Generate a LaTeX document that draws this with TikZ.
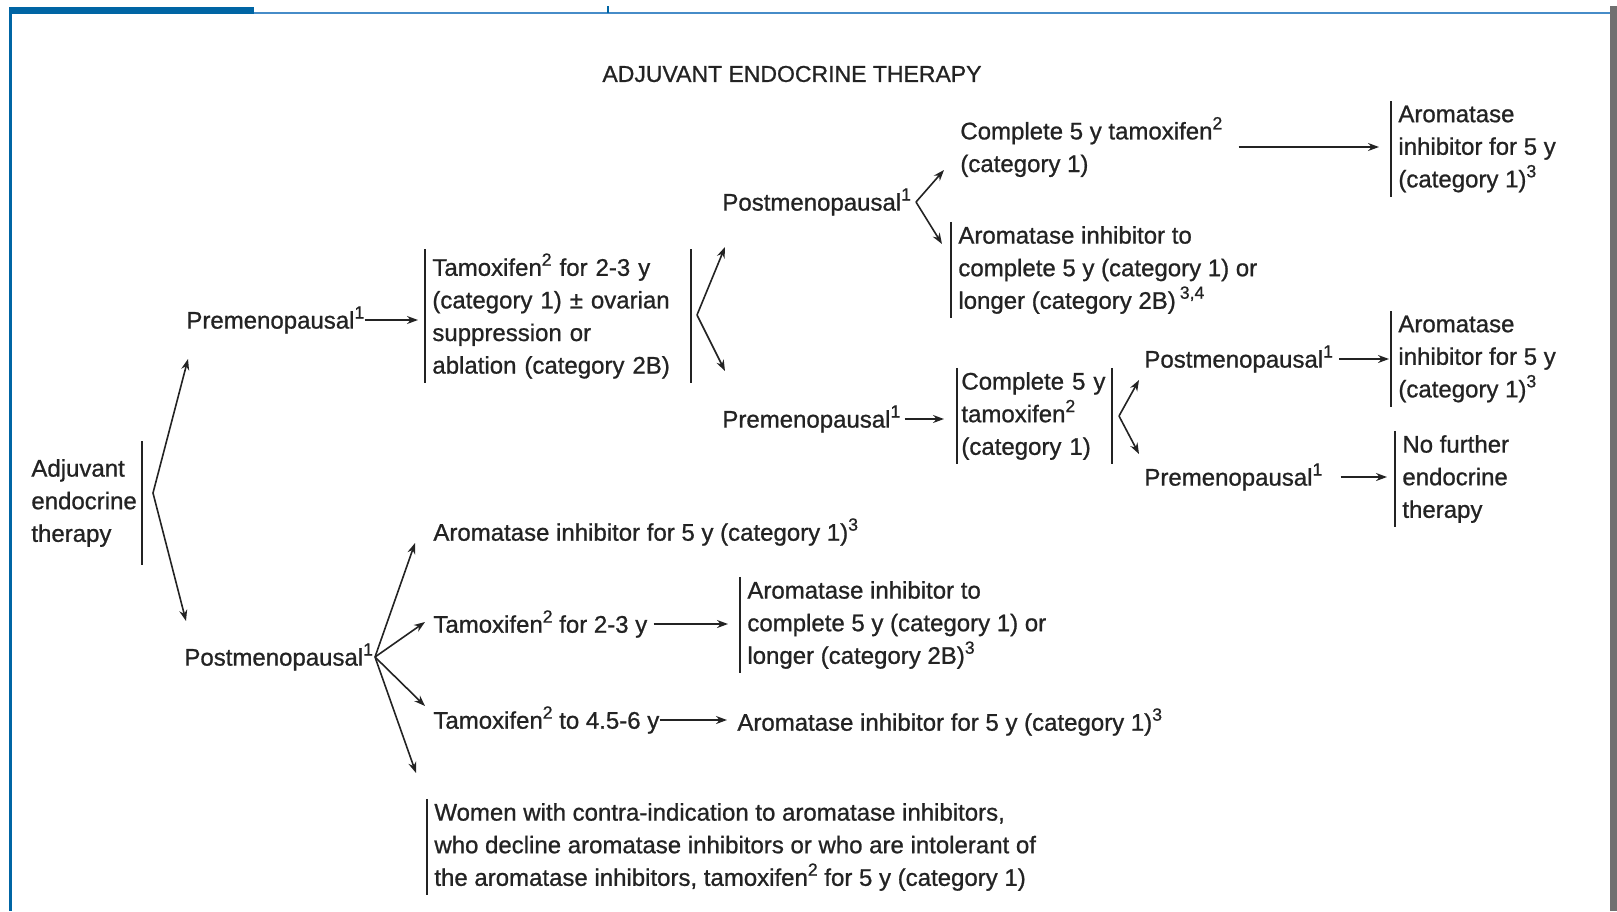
\documentclass[tikz,border=0pt]{standalone}
\usepackage{fontspec}
\setmainfont{Liberation Sans}[BoldFont={Liberation Sans}, BoldFeatures={FakeBold=0.9}]
\usetikzlibrary{arrows.meta}
\definecolor{frameblue}{RGB}{0,101,164}
\definecolor{lineblue}{RGB}{70,140,200}
\definecolor{edgegray}{RGB}{112,112,112}
\definecolor{inkgray}{RGB}{35,35,35}
\newcommand{\diagfont}{\fontsize{12}{16.3}\selectfont\bfseries}
\newcommand{\titlefont}{\fontsize{11.5}{14}\selectfont\bfseries}
\newcommand{\sups}[1]{\raisebox{0.42em}{\fontsize{8.8}{9}\selectfont #1}}

\begin{document}
\begin{tikzpicture}[x=0.5pt, y=-0.5pt,
  lbl/.style={font=\diagfont, text=inkgray, inner sep=0pt, align=left, anchor=west},
  sideline/.style={draw=inkgray, line width=0.8pt},
  lbar/.style={append after command={(\tikzlastnode.north west) edge[sideline] (\tikzlastnode.south west)}},
  rbar/.style={append after command={(\tikzlastnode.north east) edge[sideline] (\tikzlastnode.south east)}},
  box/.style={lbl, inner xsep=3.5pt, inner ysep=2pt, lbar},
  arr/.style={draw=inkgray, line width=0.8pt, -{Stealth[length=5.5pt, width=4pt]}}]
  \useasboundingbox (0,0) rectangle (1617,911);

  % Page frame
  \fill[frameblue] (9,7) rectangle (254,14);
  \draw[lineblue, line width=1.2pt] (254,13) -- (1610,13);
  \draw[frameblue, line width=1.2pt] (10.5,7) -- (10.5,911);
  \draw[frameblue, line width=1.2pt] (608,6) -- (608,13);
  \fill[edgegray] (1610,6) rectangle (1617,911);

  % Title
  \node[lbl, anchor=center, font=\titlefont] (title) at (792,74) {ADJUVANT ENDOCRINE THERAPY};

  % Root
  \node[lbl, text width=55pt, minimum height=61.5pt, rbar] (root) at (31,503) {Adjuvant\\endocrine\\therapy};

  % Premenopausal branch
  \node[lbl] (pre1) at (186,320) {Premenopausal\sups{1}};
  \node[box, rbar, text width=125.5pt] (tamA) at (425,316) {Tamoxifen\sups{2} for 2-3 y\\(category 1) ± ovarian\\suppression or\\ablation (category 2B)};
  \node[lbl] (post2) at (722,202) {Postmenopausal\sups{1}};
  \node[lbl] (comp) at (960,147) {Complete 5 y tamoxifen\sups{2}\\(category 1)};
  \node[box] (aiA) at (1391,149) {Aromatase\\inhibitor for 5 y\\(category 1)\sups{3}};
  \node[box] (aiTo) at (951,270) {Aromatase inhibitor to\\complete 5 y (category 1) or\\longer (category 2B)\,\sups{3,4}};
  \node[lbl] (pre2) at (722,419) {Premenopausal\sups{1}};
  \node[box, rbar, inner xsep=2pt, text width=73pt] (comp5) at (957,416) {Complete 5 y\\tamoxifen\sups{2}\\(category 1)};
  \node[lbl] (post3) at (1144,359) {Postmenopausal\sups{1}};
  \node[box] (aiB) at (1391,359) {Aromatase\\inhibitor for 5 y\\(category 1)\sups{3}};
  \node[lbl] (pre3) at (1144,477) {Premenopausal\sups{1}};
  \node[box] (nofur) at (1395,479) {No further\\endocrine\\therapy};

  % Postmenopausal branch
  \node[lbl] (post1) at (184,657) {Postmenopausal\sups{1}};
  \node[lbl] (aiFive) at (433,532) {Aromatase inhibitor for 5 y (category 1)\sups{3}};
  \node[lbl] (tam23) at (433,624) {Tamoxifen\sups{2} for 2-3 y};
  \node[box] (aiTo2) at (740,625) {Aromatase inhibitor to\\complete 5 y (category 1) or\\longer (category 2B)\sups{3}};
  \node[lbl] (tam456) at (433,720) {Tamoxifen\sups{2} to 4.5-6 y};
  \node[lbl] (aiFive2) at (737,722) {Aromatase inhibitor for 5 y (category 1)\sups{3}};
  \node[box] (women) at (427,847) {Women with contra-indication to aromatase inhibitors,\\who decline aromatase inhibitors or who are intolerant of\\the aromatase inhibitors, tamoxifen\sups{2} for 5 y (category 1)};

  % Fork points and arrow ends
  \coordinate (fkRoot) at (153,493);
  \coordinate (toPre1) at (188,359);
  \coordinate (toPost1) at (186,621);
  \coordinate (fkA) at (697,315);
  \coordinate (toPost2) at (725,247);
  \coordinate (toPre2) at (725,371);
  \coordinate (fkB) at (916,202);
  \coordinate (toComp) at (944,170);
  \coordinate (toAiTo) at (942,244);
  \coordinate (fkC) at (1119,416);
  \coordinate (toPost3) at (1139,380);
  \coordinate (toPre3) at (1139,454);
  \coordinate (fkD) at (375,657);
  \coordinate (toAiFive) at (415,543);
  \coordinate (toTam23) at (425,622);
  \coordinate (toTam456) at (425,706);
  \coordinate (toWomen) at (416,773);

  \draw[arr] (fkRoot) -- (toPre1);
  \draw[arr] (fkRoot) -- (toPost1);
  \draw[arr] (fkA) -- (toPost2);
  \draw[arr] (fkA) -- (toPre2);
  \draw[arr] (fkB) -- (toComp);
  \draw[arr] (fkB) -- (toAiTo);
  \draw[arr] (fkC) -- (toPost3);
  \draw[arr] (fkC) -- (toPre3);
  \draw[arr] (fkD) -- (toAiFive);
  \draw[arr] (fkD) -- (toTam23);
  \draw[arr] (fkD) -- (toTam456);
  \draw[arr] (fkD) -- (toWomen);

  % Straight arrows
  \draw[arr, shorten >=3.5pt] (pre1.east) -- (pre1.east -| tamA.west);
  \draw[arr, shorten <=8pt, shorten >=6pt] (comp.east) -- (comp.east -| aiA.west);
  \draw[arr, shorten <=2pt, shorten >=6.5pt] (pre2.east) -- (pre2.east -| comp5.west);
  \draw[arr, shorten <=3pt, shorten >=1pt] (post3.east) -- (post3.east -| aiB.west);
  \draw[arr, shorten <=9pt, shorten >=4pt] (pre3.east) -- (pre3.east -| nofur.west);
  \draw[arr, shorten <=3pt, shorten >=6pt] (tam23.east) -- (tam23.east -| aiTo2.west);
  \draw[arr, shorten >=5pt] (tam456.east) -- (tam456.east -| aiFive2.west);
\end{tikzpicture}
\end{document}
